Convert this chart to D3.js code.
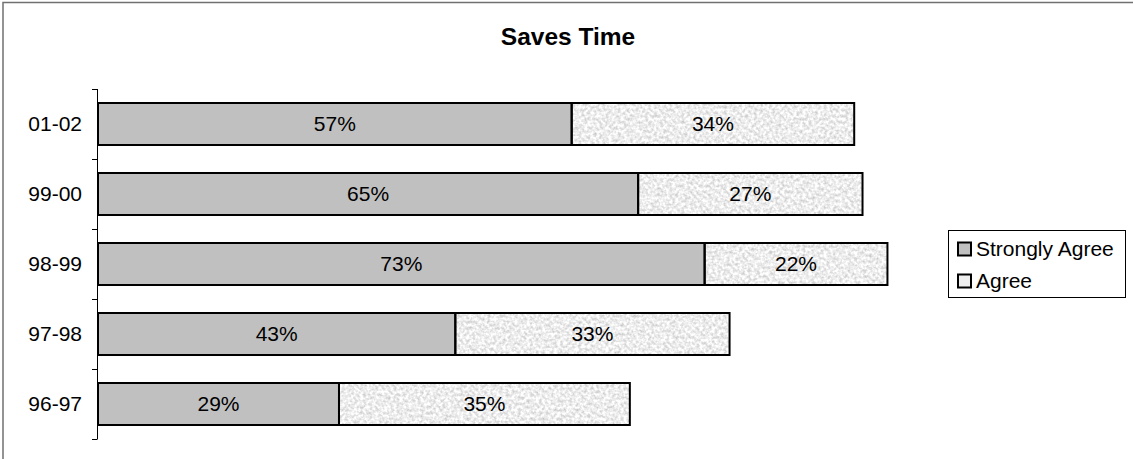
<!DOCTYPE html>
<html>
<head>
<meta charset="utf-8">
<script src="https://cdn.jsdelivr.net/npm/d3@7"></script>
<style>
  html, body { margin: 0; padding: 0; background: #fff; }
  svg { display: block; font-family: Arial, "Liberation Sans", sans-serif; }
</style>
</head>
<body>
<svg id="chart" width="1133" height="459"></svg>
<script>
// Survey years, top to bottom
const categories = ["01-02", "99-00", "98-99", "97-98", "96-97"];
// Percent of respondents per response
const stronglyAgree = [57, 65, 73, 43, 29];
const agree = [34, 27, 22, 33, 35];
const seriesNames = ["Strongly Agree", "Agree"];
const titleText = "Saves Time";

const svg = d3.select("#chart");
const W = 1133, H = 459;

// Speckled light-grey texture for the "Agree" segments
const defs = svg.append("defs");
const speckle = defs.append("filter")
  .attr("id", "speckle")
  .attr("x", "0%").attr("y", "0%").attr("width", "100%").attr("height", "100%")
  .attr("color-interpolation-filters", "sRGB");
speckle.append("feTurbulence")
  .attr("type", "fractalNoise")
  .attr("baseFrequency", "0.33")
  .attr("numOctaves", 2)
  .attr("seed", 7)
  .attr("result", "noise");
speckle.append("feColorMatrix")
  .attr("in", "noise")
  .attr("type", "matrix")
  .attr("values", "0.40 0 0 0 0.73  0.40 0 0 0 0.73  0.40 0 0 0 0.73  0 0 0 0 1")
  .attr("result", "grey");
speckle.append("feComposite")
  .attr("in", "grey").attr("in2", "SourceGraphic").attr("operator", "in");

// Chart-area border (only top and left edges fall inside the frame)
svg.append("rect")
  .attr("x", 3).attr("y", 2.5)
  .attr("width", W + 20).attr("height", H + 20)
  .attr("fill", "none").attr("stroke", "#707070").attr("stroke-width", 1.5);

// Title
svg.append("text")
  .attr("x", 568).attr("y", 45)
  .attr("text-anchor", "middle")
  .attr("font-size", 24.5).attr("font-weight", "bold")
  .attr("fill", "#000")
  .text(titleText);

// Scales
const x = d3.scaleLinear().domain([0, 100]).range([98, 929]);
const y = d3.scaleBand().domain(categories).range([89, 439])
  .paddingInner(0.4).paddingOuter(0.2);

// Category axis: line with ticks between categories
const tickPos = categories.map(c => y(c) - y.step() * y.paddingInner() / 2);
tickPos.push(y.range()[1]);
const axisG = svg.append("g");
axisG.append("line")
  .attr("x1", 97.5).attr("x2", 97.5)
  .attr("y1", y.range()[0]).attr("y2", y.range()[1])
  .attr("stroke", "#000").attr("stroke-width", 1);
axisG.selectAll("line.tick").data(tickPos).join("line")
  .attr("class", "tick")
  .attr("x1", 92).attr("x2", 97.5)
  .attr("y1", d => Math.round(d) + 0.5).attr("y2", d => Math.round(d) + 0.5)
  .attr("stroke", "#000").attr("stroke-width", 1);
axisG.selectAll("text").data(categories).join("text")
  .attr("x", 82)
  .attr("y", d => y(d) + y.bandwidth() / 2)
  .attr("dy", "0.35em")
  .attr("text-anchor", "end")
  .attr("font-size", 21)
  .attr("fill", "#000")
  .text(d => d);

// Stacked segments
const rows = categories.map((c, i) => ({ cat: c, sa: stronglyAgree[i], ag: agree[i] }));
const segs = [];
rows.forEach(r => {
  segs.push({ cat: r.cat, x0: 0, x1: r.sa, v: r.sa, key: 0 });
  segs.push({ cat: r.cat, x0: r.sa, x1: r.sa + r.ag, v: r.ag, key: 1 });
});

const barG = svg.append("g");
// Fills
barG.selectAll("rect.fill").data(segs).join("rect")
  .attr("class", "fill")
  .attr("x", d => x(d.x0)).attr("y", d => y(d.cat))
  .attr("width", d => x(d.x1) - x(d.x0)).attr("height", y.bandwidth())
  .attr("fill", d => d.key === 0 ? "#c0c0c0" : "#eeeeee")
  .attr("filter", d => d.key === 1 ? "url(#speckle)" : null);
// Outlines
barG.selectAll("rect.edge").data(segs).join("rect")
  .attr("class", "edge")
  .attr("x", d => x(d.x0)).attr("y", d => y(d.cat))
  .attr("width", d => x(d.x1) - x(d.x0)).attr("height", y.bandwidth())
  .attr("fill", "none").attr("stroke", "#000").attr("stroke-width", 2);
// Value labels
barG.selectAll("text").data(segs).join("text")
  .attr("x", d => (x(d.x0) + x(d.x1)) / 2)
  .attr("y", d => y(d.cat) + y.bandwidth() / 2)
  .attr("dy", "0.35em")
  .attr("text-anchor", "middle")
  .attr("font-size", 21)
  .attr("fill", "#000")
  .text(d => d.v + "%");

// Legend
const lg = svg.append("g");
lg.append("rect")
  .attr("x", 948.5).attr("y", 230.5).attr("width", 177).attr("height", 67)
  .attr("fill", "#fff").attr("stroke", "#000").attr("stroke-width", 1);
const items = lg.selectAll("g.item").data(seriesNames).join("g")
  .attr("class", "item")
  .attr("transform", (d, i) => `translate(957, ${249 + i * 32})`);
items.append("rect")
  .attr("x", 1).attr("y", -6.5).attr("width", 13).attr("height", 13)
  .attr("fill", (d, i) => i === 0 ? "#c0c0c0" : "#eeeeee")
  .attr("stroke", "#000").attr("stroke-width", 2);
items.append("text")
  .attr("x", 19).attr("y", 0).attr("dy", "0.35em")
  .attr("font-size", 21).attr("fill", "#000")
  .text(d => d);
</script>
</body>
</html>
